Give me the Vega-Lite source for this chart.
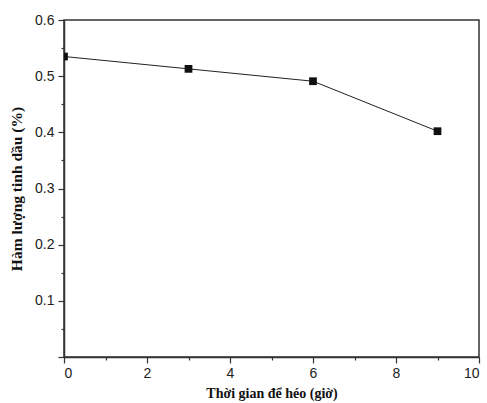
{
  "$schema": "https://vega.github.io/schema/vega-lite/v6.json",
  "autosize": "none",
  "width": 415,
  "height": 337,
  "padding": {"left": 64, "top": 20, "right": 8, "bottom": 46},
  "background": "white",
  "config": {
    "view": {"stroke": "#333", "strokeWidth": 1.5},
    "axis": {
      "domainColor": "#333", "domainWidth": 1.5,
      "tickColor": "#333", "tickWidth": 1.2,
      "labelFont": "Liberation Sans", "labelFontSize": 14, "labelColor": "#222",
      "titleFont": "Liberation Serif", "titleFontSize": 14, "titleFontWeight": "bold", "titleColor": "#111",
      "grid": false
    }
  },
  "data": {"values": [
    {"t": 0, "v": 0.535},
    {"t": 3, "v": 0.513},
    {"t": 6, "v": 0.491},
    {"t": 9, "v": 0.402}
  ]},
  "encoding": {
    "x": {"field": "t", "type": "quantitative", "scale": {"domain": [0, 10], "nice": false, "zero": false},
      "axis": {"title": "Thời gian để héo (giờ)", "values": [0,1,2,3,4,5,6,7,8,9,10],
        "labelExpr": "datum.value % 2 === 0 ? datum.label : ''",
        "tickSize": {"condition": {"test": "datum.value % 2 === 0", "value": 6}, "value": 3},
        "labelPadding": 3, "titlePadding": 6}},
    "y": {"field": "v", "type": "quantitative", "scale": {"domain": [0, 0.6], "nice": false},
      "axis": {"title": "Hàm lượng tinh dầu (%)", "titleFontSize": 15.5, "values": [0,0.05,0.1,0.15,0.2,0.25,0.3,0.35,0.4,0.45,0.5,0.55,0.6],
        "labelExpr": "round(datum.value*100) % 10 === 0 && datum.value > 0.001 ? format(datum.value, '.1f') : ''",
        "tickSize": {"condition": {"test": "round(datum.value*100) % 10 === 0", "value": 6}, "value": 3},
        "labelPadding": 4, "titlePadding": 10}}
  },
  "layer": [
    {"mark": {"type": "line", "color": "#222", "strokeWidth": 1}},
    {"mark": {"type": "square", "color": "#111", "size": 60, "opacity": 1, "clip": true}}
  ]
}
